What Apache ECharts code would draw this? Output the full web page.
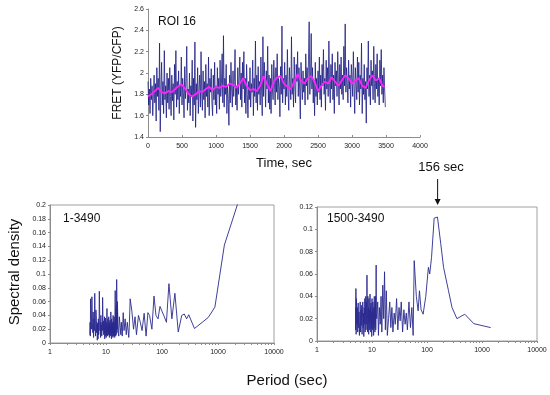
<!DOCTYPE html>
<html>
<head>
<meta charset="utf-8">
<script src="https://cdn.jsdelivr.net/npm/echarts@6/dist/echarts.min.js"></script>
<style>
html,body{margin:0;padding:0;background:#fff;}
#c{width:550px;height:395px;}
</style>
</head>
<body>
<div id="c"></div>
<script>
// ---- Top panel: FRET trace (sampled every 10 s) ----
const TIME_STEP = 10;
const fretRaw = [
1.92,1.70,1.85,1.62,1.95,1.75,1.88,1.60,1.80,1.98,
1.72,1.90,1.55,2.05,1.78,1.95,1.65,2.28,1.45,1.85,
2.10,1.70,1.92,1.62,2.21,1.75,1.88,1.58,2.00,1.72,
1.95,1.66,2.05,1.78,1.60,1.98,1.74,1.90,1.56,2.08,
1.80,2.21,1.68,1.92,1.75,2.02,1.62,1.88,1.78,2.15,
1.70,1.95,1.82,1.58,2.06,1.76,1.92,2.25,1.65,1.85,
1.72,2.00,1.60,1.88,1.78,2.12,1.55,1.95,1.70,2.29,
1.49,1.90,1.75,2.05,1.62,1.85,1.98,1.68,2.20,1.80,
1.65,2.02,1.75,1.92,1.58,2.08,1.78,1.90,1.68,2.15,
1.60,1.95,1.82,2.04,1.72,1.60,1.98,1.75,2.10,1.70,
1.88,1.62,2.05,1.80,1.95,1.66,2.12,1.78,1.90,2.18,
1.72,2.35,1.68,1.95,1.80,2.08,1.62,1.88,1.75,1.51,
1.98,1.72,2.10,1.85,1.68,2.02,1.78,1.92,2.22,1.70,
1.88,1.65,2.05,1.80,1.95,2.15,1.75,2.00,1.68,2.10,
1.85,2.20,1.72,1.95,1.62,2.08,1.80,1.58,1.92,1.75,
2.05,1.68,1.90,1.82,2.12,1.60,1.95,1.78,2.30,1.72,
1.98,1.65,2.06,1.80,1.92,1.70,2.15,1.85,1.60,2.34,
1.78,2.10,1.92,1.68,2.02,1.85,2.25,1.72,1.98,1.66,
1.95,1.62,2.08,1.85,1.75,2.12,1.90,1.70,2.05,1.82,
2.18,1.75,1.95,1.88,1.59,2.06,1.80,2.44,1.72,1.95,
1.85,2.10,1.70,1.98,1.78,2.22,1.82,1.65,2.05,1.90,
1.75,2.34,1.80,1.95,1.68,2.15,1.88,1.72,2.08,1.92,
2.20,1.78,2.05,1.85,1.57,2.10,1.92,1.75,2.02,1.82,
1.95,1.70,2.18,1.88,2.05,1.75,2.12,2.48,1.80,1.98,
2.37,1.85,2.05,1.72,1.92,1.60,2.10,1.78,1.95,1.70,
2.02,1.82,2.15,1.75,1.98,1.68,2.08,1.88,2.22,1.80,
1.95,1.65,2.12,1.85,2.05,1.78,2.30,1.90,1.72,2.08,
1.85,2.18,1.75,1.98,1.62,2.10,1.88,2.02,1.78,2.20,
1.92,1.70,2.08,1.85,2.15,1.80,1.98,1.75,2.25,1.88,
2.46,1.82,2.05,1.90,1.72,2.12,1.85,1.98,1.68,2.08,
1.95,1.78,2.20,1.88,1.62,2.05,1.90,1.75,2.15,1.82,
2.10,1.70,1.98,1.85,2.28,1.62,1.95,1.80,2.08,1.75,
1.92,1.53,2.05,1.85,2.30,1.78,1.98,1.70,2.12,1.88,
2.02,1.75,2.25,1.90,1.72,2.08,1.85,2.18,1.78,1.95,
1.70,2.12,1.88,2.22,1.80,1.98,1.72,2.05,1.85,1.68
];
const avgTimes = [0,50,100,150,200,250,300,350,400,450,500,550,600,650,700,750,800,850,900,950,
1000,1050,1100,1150,1200,1250,1300,1350,1400,1450,1500,1550,1600,1650,1700,1750,1800,1850,1900,1950,
2000,2050,2100,2150,2200,2250,2300,2350,2400,2450,2500,2550,2600,2650,2700,2750,2800,2850,2900,2950,
3000,3050,3100,3150,3200,3250,3300,3350,3400,3450,3480];
const avgValues = [1.78,1.80,1.83,1.86,1.82,1.81,1.83,1.82,1.85,1.88,1.89,1.85,1.80,1.78,1.80,1.83,1.82,1.85,1.87,1.84,
1.87,1.86,1.88,1.87,1.90,1.89,1.86,1.90,1.95,1.88,1.84,1.85,1.83,1.88,1.97,1.90,1.83,1.92,1.96,1.97,
1.90,1.87,1.85,1.92,1.99,1.93,1.90,1.95,1.97,1.92,1.83,1.88,1.92,1.90,1.96,1.92,1.88,1.93,1.98,1.95,
1.90,1.93,1.95,1.88,1.86,1.93,1.98,1.93,1.95,1.88,1.87];
const timeTicks = {min:0, max:4000, interval:500};
const fretTicks = {min:1.4, max:2.6, interval:0.2};

// ---- Bottom-left spectrum: 1-3490 ----
const periodsA = [3490,1300,880,670,380,300,275,250,225,195,170,150,133,120,110,100,92,85,78,72,66,60,56,52,48,44,41,38,35,33,31,29,27,26,25.5,24,23,22,21,20.3,19.5,18.8,18.4,18,17.3,16.9,16.6,16.3,
16.0,15.9,15.8,15.7,15.6,15.5,15.4,15.3,15.2,15.1,15.0,14.9,14.8,14.7,14.6,14.5,14.4,14.3,14.2,14.1,14.0,13.9,13.8,13.7,13.6,13.5,13.4,13.3,13.2,13.1,13.0,12.9,12.8,12.7,12.6,12.5,12.4,12.3,12.2,12.1,12.0,11.9,11.8,11.7,11.6,11.5,11.4,11.3,11.2,11.1,11.0,10.9,10.8,10.7,10.6,10.5,10.4,10.3,10.2,10.1,10.0,
9.9,9.8,9.7,9.6,9.5,9.4,9.3,9.2,9.1,9.0,8.9,8.8,8.7,8.6,8.5,8.4,8.3,8.2,8.1,8.0,7.9,7.8,7.7,7.6,7.5,7.4,7.3,7.2,7.1,7.0,6.9,6.8,6.7,6.6,6.5,6.4,6.3,6.2,6.1,6.0,5.9,5.8,5.7,5.6,5.5,5.4,5.3,5.25,5.2,5.15];
const densityA = [0.25,0.142,0.052,0.037,0.021,0.041,0.035,0.042,0.040,0.016,0.072,0.035,0.086,0.030,0.038,0.046,0.053,0.035,0.040,0.068,0.020,0.040,0.044,0.010,0.043,0.018,0.030,0.040,0.012,0.038,0.020,0.046,0.064,0.022,0.008,0.030,0.012,0.035,0.018,0.044,0.010,0.030,0.012,0.022,0.038,0.010,0.015,0.030,
0.060,0.020,0.045,0.015,0.070,0.092,0.030,0.055,0.012,0.040,0.050,0.010,0.035,0.022,0.076,0.018,0.030,0.008,0.028,0.015,0.038,0.012,0.025,0.010,0.032,0.018,0.040,0.008,0.022,0.014,0.030,0.010,0.026,0.016,0.035,0.006,0.024,0.018,0.045,0.012,0.028,0.010,0.033,0.015,0.025,0.008,0.030,0.018,0.038,0.012,0.027,0.020,0.035,0.010,0.024,0.016,0.050,0.012,0.030,0.008,0.026,
0.018,0.036,0.010,0.022,0.006,0.038,0.015,0.028,0.012,0.032,0.020,0.042,0.066,0.018,0.030,0.010,0.026,0.014,0.040,0.008,0.030,0.018,0.048,0.075,0.022,0.012,0.035,0.006,0.028,0.004,0.030,0.015,0.040,0.048,0.010,0.025,0.072,0.018,0.035,0.008,0.045,0.015,0.030,0.067,0.020,0.038,0.064,0.010,0.030,0.012];

// ---- Bottom-right spectrum: 1500-3490 ----
const periodsB = [1440,711,486,350,285,246,200,178,155,135,121,112,106,95,85,78,73,69,64,58.5,56,53,50,47,44,42,40,38,36,34,32.5,31,29.5,28,26.5,25.3,24,23,22,21,20,19,18.2,17.5,16.9,16.3,15.7,15.1,14.6,14.1,13.6,13.1,12.7,12.2,
12.0,11.9,11.8,11.7,11.6,11.5,11.4,11.3,11.2,11.1,11.0,10.9,10.8,10.7,10.6,10.5,10.4,10.3,10.2,10.1,10.0,9.9,9.8,9.7,9.6,9.5,9.4,9.3,9.2,9.1,9.0,8.9,8.8,8.7,8.6,8.5,8.4,8.3,8.2,8.1,8.0,7.9,7.8,7.7,7.6,7.5,7.4,7.3,7.2,7.1,7.0,
6.9,6.8,6.7,6.6,6.5,6.4,6.3,6.2,6.1,6.0,5.9,5.8,5.7,5.6,5.5,5.4,5.3,5.2,5.15,5.1,5.05,5.03];
const densityB = [0.012,0.0155,0.024,0.020,0.030,0.045,0.066,0.087,0.111,0.110,0.075,0.060,0.066,0.040,0.024,0.028,0.045,0.027,0.040,0.072,0.005,0.030,0.012,0.035,0.010,0.025,0.015,0.028,0.008,0.035,0.018,0.030,0.010,0.038,0.015,0.025,0.008,0.030,0.012,0.035,0.020,0.005,0.045,0.010,0.062,0.020,0.050,0.008,0.040,0.015,0.030,0.005,0.035,0.020,
0.025,0.068,0.030,0.010,0.040,0.015,0.032,0.008,0.028,0.018,0.040,0.012,0.030,0.005,0.025,0.015,0.035,0.010,0.028,0.020,0.038,0.004,0.026,0.012,0.034,0.008,0.030,0.018,0.042,0.010,0.028,0.016,0.038,0.006,0.030,0.020,0.040,0.008,0.024,0.059,0.015,0.035,0.010,0.040,0.022,0.008,0.038,0.015,0.030,0.004,0.025,
0.012,0.035,0.020,0.006,0.032,0.014,0.028,0.008,0.035,0.018,0.005,0.026,0.012,0.034,0.008,0.030,0.015,0.038,0.006,0.047,0.010,0.030];
const periodTicks = {min:1, max:10000};
const periodLabels = [1,10,100,1000,10000];
const periodTickMarks = [1,2,3,4,5,6,7,8,9,10,20,30,40,50,60,70,80,90,100,200,300,400,500,600,700,800,900,1000,2000,3000,4000,5000,6000,7000,8000,9000,10000];
const densityTicksA = {min:0, max:0.2, interval:0.02};
const densityTicksB = {min:0, max:0.12, interval:0.02};
const peakPeriod = 156;

const FONT = 'Liberation Sans, Arial, sans-serif';
const chart = echarts.init(document.getElementById('c'), null, {renderer:'canvas'});

const axisLineStyle = {lineStyle:{color:'#8c8c8c', width:1}};
const tickLbl = {fontSize:7, color:'#222', fontFamily:FONT, margin:4};
function logAxis(grid){
  return {type:'log', logBase:10, gridIndex:grid, min:periodTicks.min, max:periodTicks.max,
    axisLine:axisLineStyle, axisTick:{show:true, length:2, customValues:periodTickMarks, lineStyle:{color:'#8c8c8c'}},
    splitLine:{show:false},
    axisLabel:Object.assign({}, tickLbl, {margin:6, customValues:periodLabels, formatter:v=>String(Math.round(v))})};
}
function valAxis(grid, t){
  return {type:'value', gridIndex:grid, min:t.min, max:t.max, interval:t.interval,
    axisLine:{show:true, lineStyle:{color:'#8c8c8c'}}, axisTick:{show:true, length:2, lineStyle:{color:'#8c8c8c'}},
    splitLine:{show:false}, axisLabel:Object.assign({}, tickLbl)};
}

const option = {
  animation:false,
  backgroundColor:'#fff',
  grid:[
    {left:148, top:9, width:272, height:128},
    {left:50, top:205, width:224, height:138, show:true, borderColor:'#a0a0a0', borderWidth:1},
    {left:317, top:207, width:220, height:134, show:true, borderColor:'#a0a0a0', borderWidth:1}
  ],
  xAxis:[
    {type:'value', gridIndex:0, min:timeTicks.min, max:timeTicks.max, interval:timeTicks.interval,
     axisLine:axisLineStyle, axisTick:{show:true, length:2, inside:true, lineStyle:{color:'#8c8c8c'}},
     splitLine:{show:false}, axisLabel:Object.assign({}, tickLbl, {margin:6, formatter:v=>String(v)}),
     name:'Time, sec', nameLocation:'middle', nameGap:20,
     nameTextStyle:{fontSize:13, color:'#111', fontFamily:FONT}},
    logAxis(1),
    logAxis(2)
  ],
  yAxis:[
    Object.assign(valAxis(0, fretTicks), {name:'FRET (YFP/CFP)', nameLocation:'middle', nameGap:24,
      nameTextStyle:{fontSize:12, color:'#111', fontFamily:FONT}}),
    valAxis(1, densityTicksA),
    valAxis(2, densityTicksB)
  ],
  series:[
    {type:'line', xAxisIndex:0, yAxisIndex:0, showSymbol:false, symbol:'none',
     data:fretRaw.map((v,i)=>[i*TIME_STEP, v]),
     lineStyle:{color:'#1c1c84', width:0.8}},
    {type:'line', xAxisIndex:0, yAxisIndex:0, showSymbol:false, symbol:'none',
     data:avgTimes.map((t,i)=>[t, avgValues[i]]),
     lineStyle:{color:'#ff22ff', width:1.8}},
    {type:'line', xAxisIndex:1, yAxisIndex:1, showSymbol:false, symbol:'none', clip:true,
     data:periodsA.map((p,i)=>[p, densityA[i]]),
     lineStyle:{color:'#2a2a90', width:0.9}},
    {type:'line', xAxisIndex:2, yAxisIndex:2, showSymbol:false, symbol:'none', clip:true,
     data:periodsB.map((p,i)=>[p, densityB[i]]),
     lineStyle:{color:'#2a2a90', width:0.9}}
  ]
};
chart.setOption(option);

const px = chart.convertToPixel({xAxisIndex:2}, peakPeriod);
chart.setOption({graphic:[
  {id:'roi', type:'text', left:158, top:16, style:{text:'ROI 16', fontSize:12, fill:'#111', fontFamily:FONT}},
  {id:'lA', type:'text', left:63, top:213, style:{text:'1-3490', fontSize:12, fill:'#111', fontFamily:FONT}},
  {id:'lB', type:'text', left:327, top:213, style:{text:'1500-3490', fontSize:12, fill:'#111', fontFamily:FONT}},
  {id:'sd', type:'text', x:15, y:272, rotation:Math.PI/2, style:{text:'Spectral density', fontSize:15, fill:'#111', fontFamily:FONT, align:'center', verticalAlign:'middle'}},
  {id:'per', type:'text', x:287, y:381, style:{text:'Period (sec)', fontSize:15, fill:'#111', fontFamily:FONT, align:'center', verticalAlign:'middle'}},
  {id:'pk', type:'text', x:441, y:167, style:{text:'156 sec', fontSize:13, fill:'#111', fontFamily:FONT, align:'center', verticalAlign:'middle'}},
  {id:'arl', type:'line', shape:{x1:px, y1:179, x2:px, y2:200}, style:{stroke:'#111', lineWidth:1}},
  {id:'arh', type:'polygon', shape:{points:[[px-3,199],[px+3,199],[px,205]]}, style:{fill:'#111'}}
]});
</script>
</body>
</html>
